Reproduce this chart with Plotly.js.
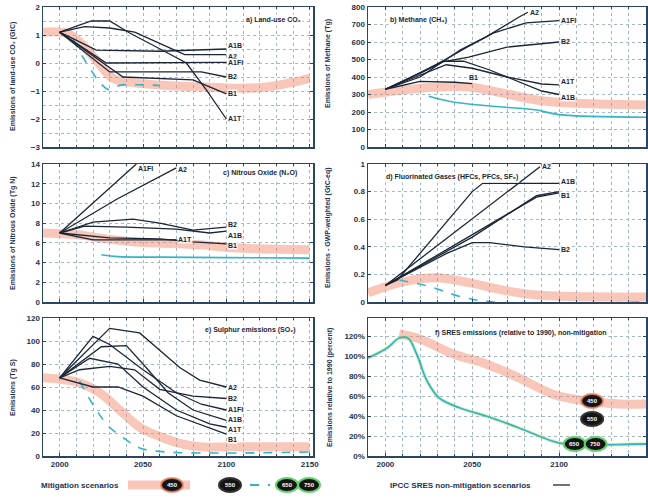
<!DOCTYPE html>
<html><head><meta charset="utf-8">
<script src="https://cdn.plot.ly/plotly-3.0.1.min.js"></script>
<style>html,body{margin:0;padding:0;background:#fff;overflow:hidden}#chart{width:648px;height:498px}</style>
</head><body><div id="chart"></div>
<script>
// ================= DATA =================
const yearTicks = [2000, 2050, 2100, 2150];

// a) Land-use CO2 (GtC)
const luA1TYr = [2000, 2019, 2030, 2042, 2058, 2076, 2088, 2100];
const luA1T   = [1.1, 1.5, 1.5, 1.07, 0.57, 0.0, -0.96, -2.0];
const luA2Yr  = [2000, 2015, 2030, 2045, 2060, 2075, 2100];
const luA2    = [1.1, 1.3, 1.25, 1.1, 0.7, 0.3, 0.3];
const luA1BYr = [2000, 2022, 2060, 2100];
const luA1B   = [1.1, 0.46, 0.42, 0.5];
const luA1FIYr= [2000, 2028, 2100];
const luA1FI  = [1.1, 0.0, 0.02];
const luB2Yr  = [2000, 2030, 2085, 2100];
const luB2    = [1.1, -0.32, -0.32, -0.5];
const luB1Yr  = [2000, 2038, 2080, 2092, 2100];
const luB1    = [1.1, -0.5, -0.6, -0.9, -1.1];
const luMitYr = [1990, 2004, 2012, 2022, 2032, 2044, 2064, 2084, 2104, 2124, 2150];
const luMit   = [1.1, 1.07, 0.75, 0.1, -0.55, -0.7, -0.8, -0.85, -0.9, -0.86, -0.55];
const luLowYr = [2008, 2014, 2020, 2024, 2030, 2036, 2050, 2060];
const luLow   = [0.85, 0.2, -0.36, -0.7, -0.96, -0.8, -0.78, -0.8];

// b) Methane CH4 (Tg)
const chA2Yr  = [2000, 2020, 2043, 2058, 2077, 2082];
const chA2    = [330, 400, 554, 629, 743, 770];
const chA1FIYr= [2000, 2027, 2047, 2062, 2081, 2100];
const chA1FI  = [330, 457, 571, 651, 709, 722];
const chB2Yr  = [2000, 2020, 2033, 2048, 2070, 2100];
const chB2    = [330, 420, 486, 514, 571, 600];
const chA1TYr = [2000, 2020, 2035, 2050, 2070, 2090, 2100];
const chA1T   = [330, 410, 470, 450, 400, 360, 355];
const chA1BYr = [2000, 2015, 2033, 2045, 2060, 2075, 2090, 2100];
const chA1B   = [330, 400, 490, 490, 440, 380, 320, 300];
const chB1Yr  = [2000, 2020, 2040, 2050];
const chB1    = [330, 375, 370, 362];
const chMitYr = [1990, 2010, 2030, 2048, 2067, 2087, 2106, 2150];
const chMit   = [300, 326, 343, 343, 309, 269, 251, 240];
const chLowYr = [2025, 2039, 2067, 2087, 2100, 2150];
const chLow   = [290, 257, 229, 211, 185, 170];

// c) Nitrous oxide N2O (Tg N)
const noA1FIYr= [2000, 2046];
const noA1FI  = [7.0, 14.0];
const noA2Yr  = [2000, 2035, 2070];
const noA2    = [7.0, 10.5, 13.6];
const noB2Yr  = [2000, 2020, 2044, 2060, 2080, 2100];
const noB2    = [7.0, 8.1, 8.4, 8.0, 7.3, 7.6];
const noA1BYr = [2000, 2015, 2040, 2070, 2090, 2100];
const noA1B   = [7.0, 7.7, 7.6, 7.4, 7.0, 7.2];
const noA1TYr = [2000, 2020, 2040, 2070];
const noA1T   = [7.0, 6.3, 6.3, 6.3];
const noB1Yr  = [2000, 2030, 2060, 2080, 2100];
const noB1    = [7.0, 6.5, 6.4, 6.1, 5.9];
const noMitYr = [1990, 2012, 2024, 2044, 2084, 2104, 2150];
const noMit   = [7.0, 6.8, 6.5, 6.1, 5.8, 5.5, 5.3];
const noLowYr = [2025, 2035, 2060, 2100, 2150];
const noLow   = [4.8, 4.6, 4.55, 4.5, 4.45];

// d) Fluorinated gases (GtC-eq)
const fgA2Yr  = [2000, 2089];
const fgA2    = [0.12, 0.98];
const fgA1BYr = [2000, 2007, 2050, 2056, 2087, 2100];
const fgA1B   = [0.12, 0.16, 0.80, 0.86, 0.86, 0.86];
const fgA1TYr = [2000, 2050, 2087, 2100];
const fgA1T   = [0.12, 0.47, 0.77, 0.80];
const fgB1Yr  = [2000, 2045, 2087, 2100];
const fgB1    = [0.12, 0.45, 0.76, 0.79];
const fgB2Yr  = [2000, 2035, 2050, 2060, 2080, 2100];
const fgB2    = [0.12, 0.35, 0.43, 0.43, 0.40, 0.38];
const fgMitYr = [1990, 2010, 2030, 2048, 2067, 2087, 2150];
const fgMit   = [0.066, 0.146, 0.175, 0.14, 0.088, 0.05, 0.036];
const fgLowYr = [2008, 2026, 2043, 2062, 2150];
const fgLow   = [0.16, 0.11, 0.04, 0.0, 0.0];

// e) Sulphur SO2 (Tg S)
const soA2Yr  = [2000, 2030, 2048, 2060, 2072, 2084, 2100];
const soA2    = [68, 111, 107, 92, 77, 66, 60];
const soB2Yr  = [2000, 2012, 2030, 2045, 2060, 2080, 2100];
const soB2    = [68, 75, 78, 75, 58, 52, 50];
const soA1FIYr= [2000, 2020, 2030, 2050, 2070, 2085, 2100];
const soA1FI  = [68, 104, 97, 75, 55, 45, 40];
const soA1BYr = [2000, 2025, 2040, 2050, 2065, 2080, 2100];
const soA1B   = [68, 95, 96, 80, 55, 40, 31];
const soA1TYr = [2000, 2018, 2035, 2050, 2070, 2090, 2100];
const soA1T   = [68, 85, 80, 60, 40, 28, 25];
const soB1Yr  = [2000, 2020, 2035, 2050, 2070, 2090, 2100];
const soB1    = [68, 60, 60, 52, 35, 24, 19];
const soMitYr = [1990, 2011, 2024, 2036, 2048, 2060, 2072, 2084, 2104, 2150];
const soMit   = [68, 64, 55, 40, 25, 17, 11, 8, 8, 8];
const soLowYr = [2012, 2022, 2030, 2040, 2048, 2064, 2150];
const soLow   = [65, 40, 25, 14, 7, 3.5, 3.5];

// f) relative emissions (%)
const rlMitYr = [2008, 2020, 2039, 2058, 2077, 2096, 2108, 2116, 2135, 2150];
const rlMit   = [122, 117, 102, 92, 78, 62, 57, 55, 52, 52];
const rlSresYr= [1990, 2001, 2008, 2013, 2018, 2024, 2031, 2043, 2058, 2077, 2096, 2104, 2150];
const rlSres  = [98, 108, 118, 118, 102, 75, 58, 48, 40, 28, 15, 12, 12];
const rlTagYr = [2119, 2119, 2109, 2121];
const rlTagVal= [55, 37, 12, 12];
const tagText = ['450', '550', '650', '750'];

// ================= STYLE / BUILD =================
const W = 648, H = 498;
const NAVY = '#1a2636', AX = '#2a4662', GRID = '#a3b8cd', TXT = '#1c3350';
const ORANGE = 'rgba(240,130,100,0.45)', CYAN = '#33b5c8', GREEN = '#63cf6e';
const FONT = 'Liberation Sans, DejaVu Sans, Arial, sans-serif';
const px = x => x / W, py = y => 1 - y / H;

const colL = [px(43), px(313)], colR = [px(368), px(646)];
const row1 = [py(147), py(7)], row2 = [py(302), py(164)], row3 = [py(456), py(318)];

const tickFont = {family: FONT, size: 8, color: TXT, weight: 'bold'};

function xAxis(domain, anchor, range, labels) {
  return {domain, anchor, range, tickmode: 'linear', tick0: 2000, dtick: 50,
    showticklabels: labels, tickfont: tickFont, ticks: 'inside', ticklen: 3, tickcolor: AX,
    showline: true, linecolor: AX, linewidth: 1.5, mirror: 'ticks', zeroline: false,
    showgrid: true, gridcolor: GRID, griddash: 'dot', gridwidth: 1,
    minor: {dtick: 10, tick0: 2000, showgrid: true, gridcolor: GRID, griddash: 'dot', ticks: 'inside', ticklen: 2, tickcolor: AX},
    fixedrange: true};
}
function yAxis(domain, anchor, range, dtick, extra) {
  return Object.assign({domain, anchor, range, tickmode: 'linear', tick0: 0, dtick,
    tickfont: tickFont, ticks: 'inside', ticklen: 3, tickcolor: AX,
    showline: true, linecolor: AX, linewidth: 1.5, mirror: 'ticks', zeroline: false,
    showgrid: true, gridcolor: GRID, griddash: 'dot', gridwidth: 1, fixedrange: true}, extra || {});
}

const traces = [];
const annotations = [];
const shapes = [];
function ax(i) { return i === 1 ? '' : String(i); }
function mit(i, x, y) { traces.push({x, y, xaxis: 'x' + ax(i), yaxis: 'y' + ax(i), mode: 'lines', line: {color: ORANGE, width: 9, shape: 'spline'}, hoverinfo: 'skip', showlegend: false}); }
function low(i, x, y, dash) { traces.push({x, y, xaxis: 'x' + ax(i), yaxis: 'y' + ax(i), mode: 'lines', line: {color: CYAN, width: 1.6, dash: dash || 'dash', shape: 'spline'}, hoverinfo: 'skip', showlegend: false}); }
function sres(i, name, x, y, lab) {
  traces.push({x, y, name, xaxis: 'x' + ax(i), yaxis: 'y' + ax(i), mode: 'lines', line: {color: NAVY, width: 1.3}, hoverinfo: 'skip', showlegend: false});
  lab = lab || {};
  if (lab.hide) return;
  annotations.push({xref: 'x' + ax(i), yref: 'y' + ax(i), x: x[x.length - 1], y: y[y.length - 1],
    text: name, showarrow: false, xanchor: 'left', yanchor: 'middle', xshift: lab.dx === undefined ? 1 : lab.dx, yshift: lab.dy || 0,
    font: {family: FONT, size: 7, color: NAVY, weight: 'bold'}, bgcolor: 'rgba(255,255,255,0.85)', borderpad: 0});
}

// panel a
mit(1, luMitYr, luMit); low(1, luLowYr, luLow);
sres(1, 'A1T', luA1TYr, luA1T); sres(1, 'A2', luA2Yr, luA2, {dy: -2}); sres(1, 'A1B', luA1BYr, luA1B, {dy: 3});
sres(1, 'A1FI', luA1FIYr, luA1FI); sres(1, 'B2', luB2Yr, luB2); sres(1, 'B1', luB1Yr, luB1);
// panel b
mit(2, chMitYr, chMit); low(2, chLowYr, chLow, 'solid');
sres(2, 'A2', chA2Yr, chA2); sres(2, 'A1FI', chA1FIYr, chA1FI); sres(2, 'B2', chB2Yr, chB2);
sres(2, 'A1T', chA1TYr, chA1T, {dy: 3}); sres(2, 'A1B', chA1BYr, chA1B, {dy: -3}); sres(2, 'B1', chB1Yr, chB1, {dy: 6, dx: -4});
// panel c
mit(3, noMitYr, noMit); low(3, noLowYr, noLow, 'solid');
sres(3, 'A1FI', noA1FIYr, noA1FI, {dy: -4}); sres(3, 'A2', noA2Yr, noA2, {dy: -2}); sres(3, 'B2', noB2Yr, noB2, {dy: 3});
sres(3, 'A1B', noA1BYr, noA1B, {dy: -4}); sres(3, 'A1T', noA1TYr, noA1T); sres(3, 'B1', noB1Yr, noB1, {dy: -2});
// panel d
mit(4, fgMitYr, fgMit); low(4, fgLowYr, fgLow);
sres(4, 'A2', fgA2Yr, fgA2); sres(4, 'A1B', fgA1BYr, fgA1B, {dy: 2}); sres(4, 'A1T', fgA1TYr, fgA1T, {hide: true});
sres(4, 'B1', fgB1Yr, fgB1, {dy: -3}); sres(4, 'B2', fgB2Yr, fgB2);
// panel e
mit(5, soMitYr, soMit); low(5, soLowYr, soLow);
sres(5, 'A2', soA2Yr, soA2); sres(5, 'B2', soB2Yr, soB2); sres(5, 'A1FI', soA1FIYr, soA1FI, {dy: 1});
sres(5, 'A1B', soA1BYr, soA1B, {dy: 1}); sres(5, 'A1T', soA1TYr, soA1T, {dy: -2}); sres(5, 'B1', soB1Yr, soB1, {dy: -5});
// panel f
mit(6, rlMitYr, rlMit);
traces.push({x: rlSresYr, y: rlSres, xaxis: 'x6', yaxis: 'y6', mode: 'lines', line: {color: 'rgba(200,225,120,0.45)', width: 4, shape: 'spline'}, hoverinfo: 'skip', showlegend: false});
traces.push({x: rlSresYr, y: rlSres, xaxis: 'x6', yaxis: 'y6', mode: 'lines', line: {color: CYAN, width: 1.8, shape: 'spline'}, hoverinfo: 'skip', showlegend: false});
rlTagYr.forEach((yr, k) => {
  const green = k >= 2;
  shapes.push({type: 'circle', xref: 'x6', yref: 'y6', xsizemode: 'pixel', ysizemode: 'pixel', xanchor: yr, yanchor: rlTagVal[k],
    x0: -11, x1: 11, y0: -7, y1: 7, fillcolor: '#151515', line: {color: green ? GREEN : (k === 0 ? 'rgba(240,130,100,0.8)' : '#333'), width: 2}});
  annotations.push({xref: 'x6', yref: 'y6', x: yr, y: rlTagVal[k], text: tagText[k], showarrow: false, xanchor: 'center', yanchor: 'middle',
    font: {family: FONT, size: 6, color: '#ffffff', weight: 'bold'}});
});

// panel titles
const titles = [
  ['a) Land-use CO₂', 273, 20],
  ['b) Methane (CH₄)', 418, 20],
  ['c) Nitrous Oxide (N₂O)', 260, 173],
  ['d) Fluorinated Gases (HFCs, PFCs, SF₆)', 452, 177],
  ['e) Sulphur emissions (SO₂)', 250, 330],
  ['f) SRES emissions (relative to 1990), non-mitigation', 521, 333]
];
titles.forEach(t => annotations.push({xref: 'paper', yref: 'paper', x: px(t[1]), y: py(t[2]), text: t[0], showarrow: false,
  xanchor: 'center', yanchor: 'middle',
  font: {family: FONT, size: 7, color: NAVY, weight: 'bold'}, bgcolor: 'rgba(255,255,255,0.9)', borderpad: 1}));

// y titles
const ytitles = [
  ['Emissions of land-use CO₂ (GtC)', 13, 77],
  ['Emissions of Methane (Tg)', 328, 64],
  ['Emissions of Nitrous Oxide (Tg N)', 13, 233],
  ['Emissions - GWP-weighted (GtC-eq)', 328, 228],
  ['Emissions (Tg S)', 13, 388],
  ['Emissions relative to 1990 (percent)', 330, 388]
];
ytitles.forEach(t => annotations.push({xref: 'paper', yref: 'paper', x: px(t[1]), y: py(t[2]), text: t[0], showarrow: false, textangle: -90,
  xanchor: 'center', yanchor: 'middle',
  font: {family: FONT, size: 7, color: TXT, weight: 'bold'}}));

// bottom legend
const ly = py(485);
annotations.push({xref: 'paper', yref: 'paper', x: px(80), y: ly, text: 'Mitigation scenarios', showarrow: false, xanchor: 'center', yanchor: 'middle',
  font: {family: FONT, size: 8, color: TXT, weight: 'bold'}});
shapes.push({type: 'line', xref: 'paper', yref: 'paper', x0: px(128), x1: px(190), y0: ly, y1: ly, line: {color: ORANGE, width: 9}});
shapes.push({type: 'line', xref: 'paper', yref: 'paper', x0: px(250), x1: px(270), y0: ly, y1: ly, line: {color: CYAN, width: 1.8, dash: 'dash'}});
shapes.push({type: 'line', xref: 'paper', yref: 'paper', x0: px(553), x1: px(570), y0: ly, y1: ly, line: {color: NAVY, width: 1.3}});
[[172, 0], [230, 1], [287, 2], [309, 3]].forEach(([cx, k]) => {
  const green = k >= 2;
  shapes.push({type: 'circle', xref: 'paper', yref: 'paper', x0: px(cx - 11), x1: px(cx + 11), y0: py(492), y1: py(478),
    fillcolor: '#151515', line: {color: green ? GREEN : (k === 0 ? 'rgba(240,130,100,0.8)' : '#333'), width: 2}});
  annotations.push({xref: 'paper', yref: 'paper', x: px(cx), y: ly, text: tagText[k], showarrow: false, xanchor: 'center', yanchor: 'middle',
    font: {family: FONT, size: 6, color: '#fff', weight: 'bold'}});
});
annotations.push({xref: 'paper', yref: 'paper', x: px(460), y: ly, text: 'IPCC SRES non-mitigation scenarios', showarrow: false, xanchor: 'center', yanchor: 'middle',
  font: {family: FONT, size: 8, color: TXT, weight: 'bold'}});

const layout = {
  width: W, height: H, margin: {l: 0, r: 0, t: 0, b: 0}, paper_bgcolor: '#ffffff', plot_bgcolor: '#ffffff',
  font: {family: FONT, color: TXT}, showlegend: false,
  xaxis:  xAxis(colL, 'y',  [1990, 2152], false),
  yaxis:  yAxis(row1, 'x',  [-3, 2], 1, {minor: {dtick: 0.5, showgrid: true, gridcolor: GRID, griddash: 'dot'}}),
  xaxis2: xAxis(colR, 'y2', [1990, 2150], false),
  yaxis2: yAxis(row1, 'x2', [0, 800], 100),
  xaxis3: xAxis(colL, 'y3', [1990, 2152], false),
  yaxis3: yAxis(row2, 'x3', [0, 14], 2),
  xaxis4: xAxis(colR, 'y4', [1990, 2150], false),
  yaxis4: yAxis(row2, 'x4', [0, 1], 0.2),
  xaxis5: xAxis(colL, 'y5', [1990, 2152], true),
  yaxis5: yAxis(row3, 'x5', [0, 120], 20),
  xaxis6: xAxis(colR, 'y6', [1990, 2150], true),
  yaxis6: yAxis(row3, 'x6', [0, 138], 20, {tickmode: 'array', tickvals: [0, 20, 40, 60, 80, 100, 120], ticktext: ['0%', '20%', '40%', '60%', '80%', '100%', '120%']}),
  annotations, shapes
};
Plotly.newPlot('chart', traces, layout, {staticPlot: true, displayModeBar: false});
</script></body></html>
